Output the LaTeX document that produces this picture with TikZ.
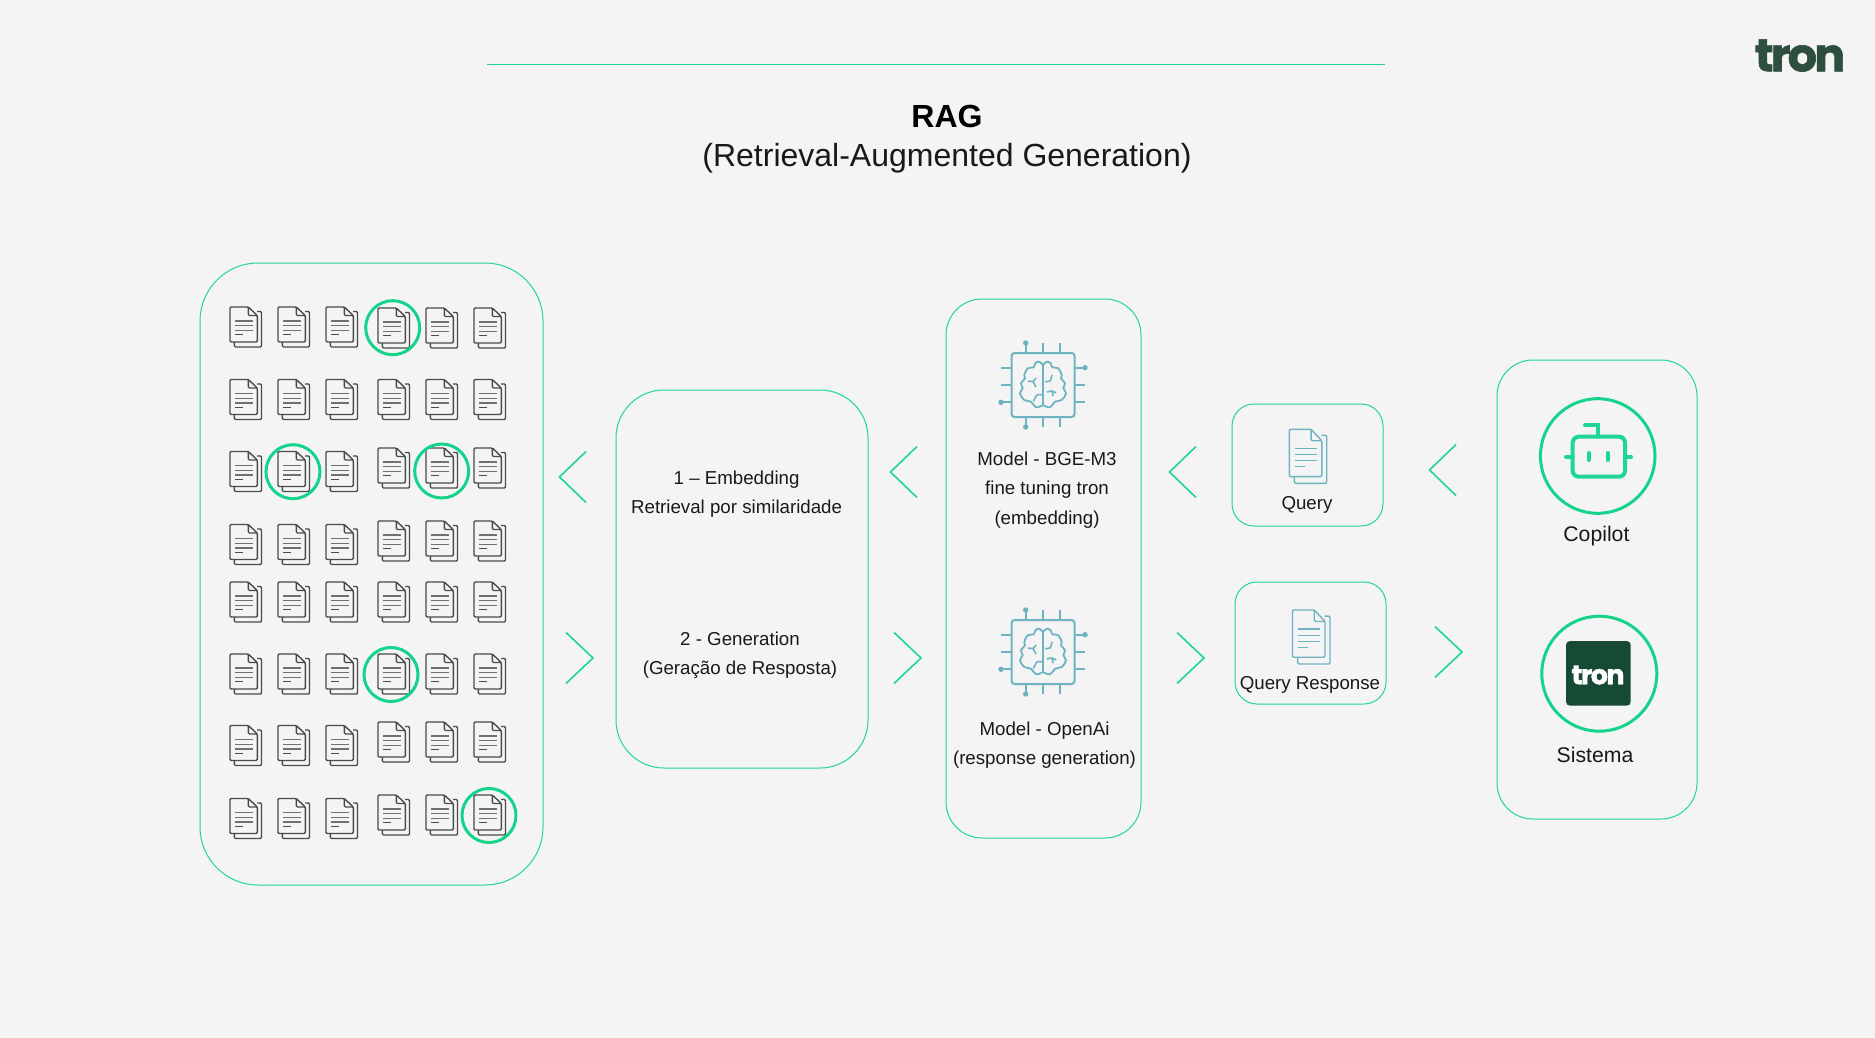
\documentclass[tikz,border=0pt]{standalone}
\usepackage{fontspec}
\setmainfont{Liberation Sans}
\newfontfamily\tronfont[LetterSpace=-6,BoldFeatures={FakeBold=1.4}]{Poppins}
\definecolor{pagebg}{HTML}{F4F4F4}
\definecolor{trongreen}{HTML}{1FD698}
\definecolor{tronring}{HTML}{14D48C}
\definecolor{tronteal}{HTML}{6DB4C0}
\definecolor{tronlogo}{HTML}{2E4F3E}
\definecolor{tronbox}{HTML}{174A35}
\definecolor{docgrey}{HTML}{4A4A4A}
\definecolor{docline}{HTML}{707070}
\tikzset{
  panel/.style={draw=trongreen, line width=0.5pt},
  chevron/.style={draw=trongreen, line width=0.8pt},
  ring/.style={draw=tronring, line width=1.5pt},
  label/.style={font=\fontsize{9.35}{14.65}\selectfont, align=center, inner sep=0pt, text=black!90},
  pics/docicon/.style 2 args={code={
    \draw[#1, line width=0.7pt, fill=pagebg, rounded corners=0.6pt] (27,4.5) -- (31.5,4.5) -- (31.5,40) -- (4.3,40) -- (4.3,35);
    \draw[#1, line width=0.7pt, fill=pagebg, rounded corners=0.6pt] (0,0) -- (18.3,0) -- (27.3,8.5) -- (27.3,35) -- (0,35) -- cycle;
    \draw[#1, line width=0.7pt, rounded corners=0.6pt] (18.3,0) -- (18.3,8.5) -- (27.3,8.5);
    \foreach \y in {14,18.7,23.3} {
      \draw[#2, line width=0.7pt] (5,\y) -- (23.3,\y);
    }
    \draw[#1, line width=0.6pt] (5,27.7) -- (13.3,27.7);
  }},
  pics/chipicon/.style={code={
    \draw[tronteal, line width=1pt, rounded corners=1.5pt] (-31.5,-32) rectangle (31.5,32);
    \foreach \t in {-17.3,0,17.3} {
      \draw[tronteal, line width=0.85pt] (\t,-32) -- (\t,-42);
      \draw[tronteal, line width=0.85pt] (\t,32) -- (\t,42);
      \draw[tronteal, line width=0.85pt] (-31.5,\t) -- (-42,\t);
      \draw[tronteal, line width=0.85pt] (31.5,\t) -- (42,\t);
    }
    \fill[tronteal] (-17.3,-42) circle (2.7) (-17.3,42) circle (2.7) (-42,17.3) circle (2.7) (42,-17.3) circle (2.7);
    % brain
    \draw[tronteal, line width=0.9pt] (0,-20) -- (0,20);
    \foreach \s in {-1,1} {
      \draw[tronteal, line width=0.9pt, xscale=\s] plot[smooth, tension=0.65] coordinates {(0,-20) (3.7,-23.3) (7.7,-21.7) (9.3,-17.7) (15.3,-16.7) (18.7,-10) (18,-6.7) (22,-1.7) (20.3,3.3) (23,8.3) (18.7,15) (12,16.7) (7,22.3) (0,20)};
    }
    \draw[tronteal, line width=0.8pt] plot[smooth] coordinates {(2,-3.5) (7,-4) (9,-10)};
    \draw[tronteal, line width=0.8pt] plot[smooth] coordinates {(4,7) (9,6) (13,8)} (9,6) -- (10,11);
    \draw[tronteal, line width=0.8pt] plot[smooth] coordinates {(-15,-4) (-10,-3.5) (-7,-7)} (-10,-3.5) -- (-7,2);
    \draw[tronteal, line width=0.8pt] plot[smooth] coordinates {(0,10) (-6,10) (-9.5,16.5)};
  }}
}
\begin{document}
\begin{tikzpicture}[x=0.5pt,y=-0.5pt]
\fill[pagebg] (0,0) rectangle (1875,1038);
\useasboundingbox (0,0) rectangle (1875,1038);

\draw[panel] (487,65) -- (1385,65);
\node[font=\fontsize{16}{19}\selectfont\bfseries, inner sep=0pt, text=black] (ragtitle) at (947,116) {RAG};
\node[font=\fontsize{16}{19}\selectfont, inner sep=0pt, text=black!90] (ragsubtitle) at (947,158.5) {(Retrieval-Augmented Generation)};
\node[font=\tronfont\fontsize{23}{24}\selectfont\bfseries, text=tronlogo, inner sep=0pt] (tronmark) at (1800,55.5) {tron};

\draw[panel, rounded corners=29pt] (200,263) rectangle (543,885);
\draw[panel, rounded corners=24pt] (616,390) rectangle (868,768);
\draw[panel, rounded corners=18pt] (946,299) rectangle (1141,838);
\draw[panel, rounded corners=11pt] (1232,404) rectangle (1383,526);
\draw[panel, rounded corners=11pt] (1235,582) rectangle (1386,704);
\draw[panel, rounded corners=18pt] (1497,360) rectangle (1697,819);

% document rows
\foreach \x in {230,278,326} {
  \foreach \y in {307,379.5,451.5,524.5,582,654,725.5,798.5} {
    \pic at (\x,\y) {docicon={docgrey}{docline}};
  }
}
\foreach \x in {378,426,474} {
  \foreach \y in {308,379.5,448,521,582,654,722,795} {
    \pic at (\x,\y) {docicon={docgrey}{docline}};
  }
}
\foreach \x/\y in {392.7/327.7,293/471.7,441.7/471,391/674.5,489/815.5} {
  \draw[ring] (\x,\y) circle (27);
}

% chevrons
\foreach \x/\y in {586/477,917/472,1196/472,1456/470} {
  \draw[chevron] (\x,\y-25.5) -- (\x-26.5,\y) -- (\x,\y+25.5);
}
\foreach \x/\y in {566/658,894/658,1177/658,1435/652} {
  \draw[chevron] (\x,\y-25.5) -- (\x+27,\y) -- (\x,\y+25.5);
}

\pic at (1043,385) {chipicon};
\pic at (1043,652) {chipicon};
\pic[xscale=1.19,yscale=1.35] at (1289.3,429.3) {docicon={tronteal}{tronteal}};
\pic[xscale=1.19,yscale=1.35] at (1292.5,610) {docicon={tronteal}{tronteal}};

\node[label] (embedlabel) at (736.6,494) {1 – Embedding\\Retrieval por similaridade};
\node[label] (genlabel) at (740,655.5) {2 - Generation\\(Geração de Resposta)};
\node[label] (bgelabel) at (1047,490) {Model - BGE-M3\\fine tuning tron\\(embedding)};
\node[label] (openailabel) at (1044.5,745) {Model - OpenAi\\(response generation)};
\node[label] (querylabel) at (1307,504.5) {Query};
\node[label] (responselabel) at (1310,684.5) {Query Response};

% copilot
\draw[ring] (1597.7,456) circle (57.3);
\draw[trongreen, line width=2pt, rounded corners=3pt] (1572.7,436.7) rectangle (1625,476.7);
\draw[trongreen, line width=2pt, line cap=round] (1598.3,436.7) -- (1598.3,425) -- (1585,425);
\draw[trongreen, line width=2pt, line cap=round] (1566,456.7) -- (1572.7,456.7) (1625,456.7) -- (1631,456.7);
\draw[trongreen, line width=2pt, line cap=round] (1589,453) -- (1589,460) (1607.7,453) -- (1607.7,460);
\node[font=\fontsize{10.6}{13}\selectfont, inner sep=0pt, text=black!90] (copilotlabel) at (1596.4,536) {Copilot};

% sistema
\draw[ring] (1599.3,673.7) circle (57.5);
\fill[tronbox, rounded corners=2pt] (1566,641) rectangle (1630.7,705.7);
\node[font=\tronfont\fontsize{13.5}{14}\selectfont\bfseries, text=white, inner sep=0pt] (tronbadge) at (1598,675) {tron};
\node[font=\fontsize{10.6}{13}\selectfont, inner sep=0pt, text=black!90] (sistemalabel) at (1595,754.6) {Sistema};
\end{tikzpicture}
\end{document}
